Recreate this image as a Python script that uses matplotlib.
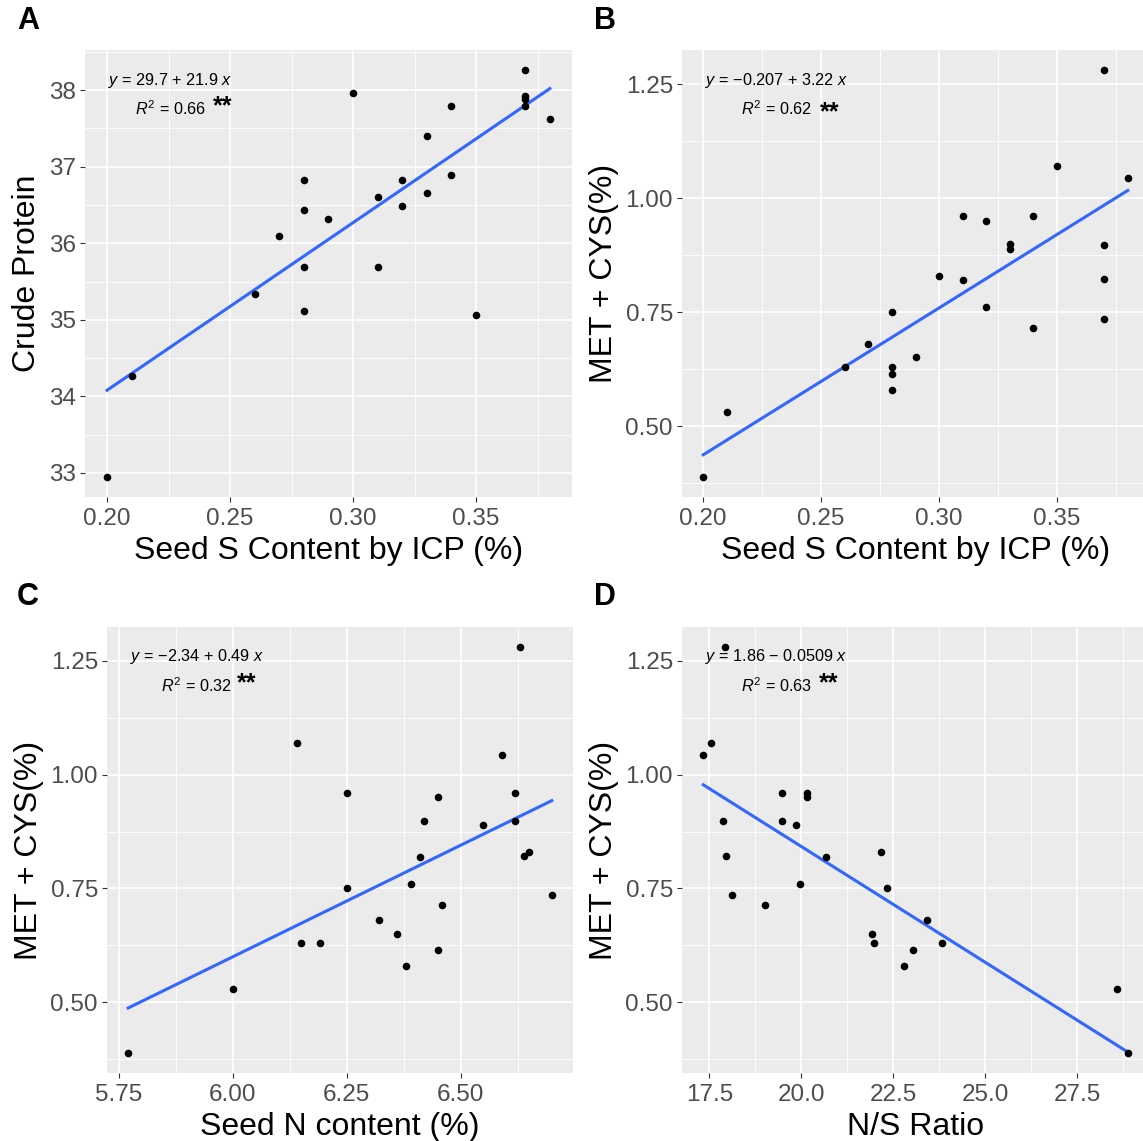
import matplotlib
matplotlib.use("Agg")
import matplotlib.pyplot as plt
import numpy as np

plt.rcParams['font.family'] = ['Liberation Sans', 'DejaVu Sans']
plt.rcParams['mathtext.fontset'] = 'custom'
plt.rcParams['mathtext.rm'] = 'Liberation Sans'
plt.rcParams['mathtext.it'] = 'Liberation Sans:italic'
plt.rcParams['mathtext.bf'] = 'Liberation Sans:bold'

# ---------------- data ----------------
# Panel A: seed S content vs crude protein
seed_s_a = [0.20, 0.21, 0.26, 0.27, 0.28, 0.28, 0.28, 0.28, 0.29, 0.30, 0.31, 0.31,
            0.32, 0.32, 0.33, 0.33, 0.34, 0.34, 0.35, 0.37, 0.37, 0.37, 0.37, 0.38]
crude_protein = [32.95, 34.26, 35.34, 36.09, 36.83, 36.43, 35.69, 35.12, 36.32, 37.97, 36.60, 35.69,
                 36.83, 36.49, 37.40, 36.66, 37.80, 36.89, 35.06, 38.26, 37.92, 37.88, 37.80, 37.63]

# Panels B-D: MET + CYS against seed S, seed N and N/S ratio
met_cys = [0.389, 0.530, 1.070, 1.280, 1.044, 0.630, 0.630, 0.680, 0.750, 0.615, 0.580, 0.651,
           0.830, 0.960, 0.820, 0.950, 0.760, 0.899, 0.889, 0.960, 0.714, 0.898, 0.822, 0.735]
seed_s = [0.20, 0.21, 0.35, 0.37, 0.38, 0.26, 0.28, 0.27, 0.28, 0.28, 0.28, 0.29,
          0.30, 0.31, 0.31, 0.32, 0.32, 0.33, 0.33, 0.34, 0.34, 0.37, 0.37, 0.37]
seed_n = [5.77, 6.00, 6.14, 6.63, 6.59, 6.19, 6.15, 6.32, 6.25, 6.45, 6.38, 6.36,
          6.65, 6.25, 6.41, 6.45, 6.39, 6.42, 6.55, 6.62, 6.46, 6.62, 6.64, 6.70]
ns_ratio = [28.87, 28.59, 17.54, 17.92, 17.33, 23.82, 21.96, 23.41, 22.32, 23.04, 22.79, 21.92,
            22.17, 20.16, 20.67, 20.16, 19.97, 19.46, 19.84, 19.46, 19.00, 17.88, 17.94, 18.10]

# regression results shown on the chart (A, B, C, D)
intercepts = [29.7, -0.207, -2.34, 1.86]
slopes = [21.9, 3.22, 0.49, -0.0509]
r_squared = ["0.66", "0.62", "0.32", "0.63"]
signif_x = [0.2470, 0.2535, 6.030, 20.75]
signif_y = [37.85, 1.199, 1.212, 1.211]

panel_tags = ["A", "B", "C", "D"]
x_titles = ["Seed S Content by ICP (%)", "Seed S Content by ICP (%)", "Seed N content (%)", "N/S Ratio"]
y_titles = ["Crude Protein", "MET + CYS(%)", "MET + CYS(%)", "MET + CYS(%)"]
x_ticks = [[0.20, 0.25, 0.30, 0.35], [0.20, 0.25, 0.30, 0.35], [5.75, 6.00, 6.25, 6.50],
           [17.5, 20.0, 22.5, 25.0, 27.5]]
x_ticklabels = [["0.20", "0.25", "0.30", "0.35"], ["0.20", "0.25", "0.30", "0.35"],
                ["5.75", "6.00", "6.25", "6.50"], ["17.5", "20.0", "22.5", "25.0", "27.5"]]
y_ticks = [[33, 34, 35, 36, 37, 38], [0.50, 0.75, 1.00, 1.25], [0.50, 0.75, 1.00, 1.25],
           [0.50, 0.75, 1.00, 1.25]]
y_ticklabels = [["33", "34", "35", "36", "37", "38"], ["0.50", "0.75", "1.00", "1.25"],
                ["0.50", "0.75", "1.00", "1.25"], ["0.50", "0.75", "1.00", "1.25"]]

xs = [seed_s_a, seed_s, seed_n, ns_ratio]
ys = [crude_protein, met_cys, met_cys, met_cys]

# ---------------- layout ----------------
W, H = 1143, 1141
fig = plt.figure(figsize=(W / 100, H / 100), dpi=100)

# panel rectangles in pixels: left, right, top, bottom
rects_px = [(85, 572, 50, 497), (682, 1149, 50, 497), (107, 573, 627, 1073), (682, 1149, 627, 1073)]
tag_px = [(28, 21), (605, 21), (28, 597), (605, 597)]

BG = "#EBEBEB"
TICKCOL = "#4D4D4D"


def minor_between(ticks, lo, hi):
    step = ticks[1] - ticks[0]
    cand = [ticks[0] - step / 2] + [t + step / 2 for t in ticks]
    return [c for c in cand if lo <= c <= hi]


for i in range(4):
    l, r, t, b = rects_px[i]
    ax = fig.add_axes([l / W, 1 - b / H, (r - l) / W, (b - t) / H])
    ax.set_facecolor(BG)
    for s in ax.spines.values():
        s.set_visible(False)

    x = np.array(xs[i])
    y = np.array(ys[i])
    xr = x.max() - x.min()
    yr = y.max() - y.min()
    xlim = (x.min() - 0.05 * xr, x.max() + 0.05 * xr)
    ylim = (y.min() - 0.05 * yr, y.max() + 0.05 * yr)
    ax.set_xlim(xlim)
    ax.set_ylim(ylim)

    ax.set_xticks(x_ticks[i])
    ax.set_xticklabels(x_ticklabels[i])
    ax.set_yticks(y_ticks[i])
    ax.set_yticklabels(y_ticklabels[i])
    ax.set_xticks(minor_between(x_ticks[i], *xlim), minor=True)
    ax.set_yticks(minor_between(y_ticks[i], *ylim), minor=True)

    ax.grid(which="major", color="white", linewidth=1.2)
    ax.grid(which="minor", color="white", linewidth=0.6)
    ax.set_axisbelow(True)
    ax.tick_params(which="major", length=3.5, width=0.8, color="#333333",
                   labelsize=17.5, labelcolor=TICKCOL)
    ax.tick_params(axis="x", which="major", pad=4.2)
    ax.tick_params(axis="y", which="major", pad=3.0)
    ax.tick_params(which="minor", length=0)

    ax.set_xlabel(x_titles[i], fontsize=23, color="black", labelpad=4.5)
    ax.set_ylabel(y_titles[i], fontsize=23, color="black", labelpad=5)

    # fitted line
    xl = np.array([x.min(), x.max()])
    ax.plot(xl, intercepts[i] + slopes[i] * xl, color="#3366FF", linewidth=2.2, zorder=2)
    # points
    ax.scatter(x, y, s=30, color="black", zorder=3, linewidths=0)

    # equation label
    a = intercepts[i]
    bcoef = slopes[i]
    a_s = ("%.3g" % a).replace("-", "\u2212")
    sign = "+" if bcoef >= 0 else "\u2212"
    b_s = "%.3g" % abs(bcoef)
    eq = r"$\mathit{y}$ = " + a_s + " " + sign + " " + b_s + r" $\mathit{x}$"
    wpx = r - l
    hpx = b - t
    teq = ax.text(23 / wpx, 1 - 30 / hpx, eq, transform=ax.transAxes,
                  ha="left", va="center", fontsize=11.7, color="black")
    fig.canvas.draw()
    bb = teq.get_window_extent()
    cx_fig = (bb.x0 + bb.x1) / 2
    cx_ax = ax.transAxes.inverted().transform((cx_fig, 0))[0]
    ax.text(cx_ax, 1 - 59 / hpx, r"$\mathit{R}^2$ = " + r_squared[i], transform=ax.transAxes,
            ha="center", va="center", fontsize=11.7, color="black")

    ax.annotate("**", xy=(signif_x[i], signif_y[i]), xytext=(0, -8.5), textcoords="offset points",
                ha="center", va="baseline", fontsize=18, fontweight="bold", color="black")

    fig.text(tag_px[i][0] / W, 1 - tag_px[i][1] / H, panel_tags[i], fontsize=22,
             fontweight="bold", ha="center", va="center")

fig.savefig("out.png", dpi=100, facecolor="white")
